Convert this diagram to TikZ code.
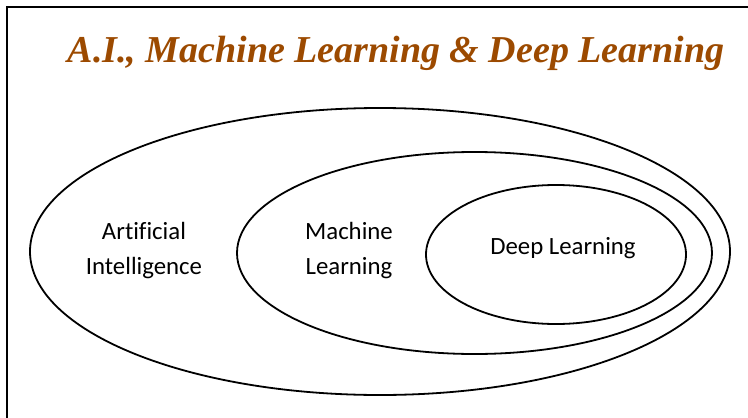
\documentclass[tikz,border=0pt]{standalone}
\usepackage{fontspec}
\setmainfont[Ligatures={NoCommon}]{Carlito}
\newfontfamily\titlefont{Liberation Serif}
\definecolor{titlebrown}{RGB}{156,74,0}
\begin{document}
\begin{tikzpicture}[x=1pt,y=-1pt,
  ring/.style={draw=black,line width=1.8pt},
  lbl/.style={font=\fontsize{24.8}{35}\selectfont,align=center,text=black,inner sep=0pt},
  ttl/.style={font=\titlefont\bfseries\itshape\fontsize{38}{44}\selectfont,text=titlebrown,inner sep=0pt}]
\useasboundingbox (0,0) rectangle (748,418);
\draw[line width=2pt] (7,430) -- (7,7) -- (760,7);
\draw[ring] (380,251.5) ellipse [x radius=350, y radius=143.5];
\draw[ring] (474.5,253) ellipse [x radius=237.5, y radius=101];
\draw[ring] (556,254.5) ellipse [x radius=130, y radius=69.5];
\node[ttl,anchor=base] (title) at (396,62) {A.I., Machine Learning \& Deep Learning};
\node[lbl] (ai) at (144,251) {Artificial\\Intelligence};
\node[lbl] (ml) at (349,251) {Machine\\Learning};
\node[lbl] (dl) at (563,248) {Deep Learning};
\end{tikzpicture}
\end{document}
